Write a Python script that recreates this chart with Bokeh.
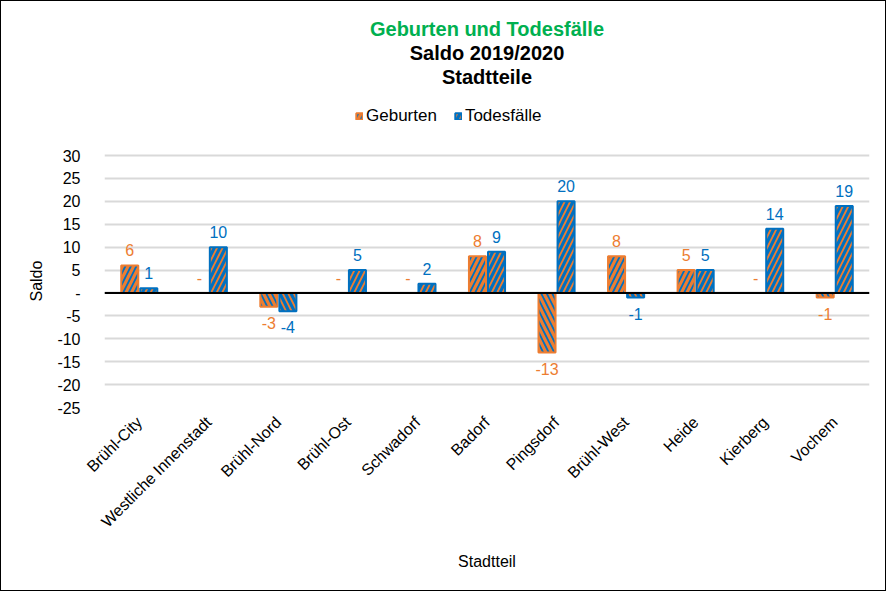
from bokeh.plotting import figure
from bokeh.models import (ColumnDataSource, FactorRange, Range1d, FixedTicker, Span,
                          Legend, LegendItem, Title)
from bokeh.transform import dodge
from bokeh.embed import file_html
from bokeh.resources import INLINE
from bokeh.core.properties import value

districts = ["Brühl-City", "Westliche Innenstadt", "Brühl-Nord", "Brühl-Ost", "Schwadorf",
             "Badorf", "Pingsdorf", "Brühl-West", "Heide", "Kierberg", "Vochem"]
geburten = [6, 0, -3, 0, 0, 8, -13, 8, 5, 0, -1]
todesfaelle = [1, 10, -4, 5, 2, 9, 20, -1, 5, 14, 19]
y_ticks = [-25, -20, -15, -10, -5, 0, 5, 10, 15, 20, 25, 30]
y_tick_labels = ["-25", "-20", "-15", "-10", "-5", "-", "5", "10", "15", "20", "25", "30"]

ORANGE = "#ED7D31"
BLUE = "#0070C0"
GREEN = "#00B050"
FONT = "Liberation Sans"

# value axis: -25..30 occupies the lower 252 px of a 320 px frame;
# the space above holds the legend (frame extended upwards, no ticks there)
Y_MIN, Y_MAX = -25, 30
FRAME_H, AXIS_H = 320, 252
y_end = Y_MIN + (Y_MAX - Y_MIN) * FRAME_H / AXIS_H


def make_source(vals):
    return ColumnDataSource(dict(
        district=districts,
        val=vals,
        hatch=["/" if v >= 0 else "\\" for v in vals],
        label=[str(v) if v != 0 else "-" for v in vals],
        baseline=["bottom" if v >= 0 else "top" for v in vals],
        yoff=[-9 if v >= 0 else 10 for v in vals],
    ))


src_g = make_source(geburten)
src_t = make_source(todesfaelle)

p = figure(x_range=FactorRange(*districts), y_range=Range1d(Y_MIN, y_end),
           width=886, height=591, output_backend="svg", toolbar_location=None,
           min_border_left=103, min_border_right=18, min_border_top=86,
           min_border_bottom=185)
p.styles = {"border": "1px solid black"}
p.outline_line_color = None
p.background_fill_color = "white"
p.border_fill_color = "white"

r_g = p.vbar(x=dodge("district", -0.137, range=p.x_range), top="val", bottom=0, width=0.245,
             source=src_g, fill_color=ORANGE, line_color=ORANGE, line_width=2,
             hatch_pattern="hatch", hatch_color=BLUE, hatch_scale=11, hatch_weight=1.8)
r_t = p.vbar(x=dodge("district", 0.137, range=p.x_range), top="val", bottom=0, width=0.245,
             source=src_t, fill_color=BLUE, line_color=BLUE, line_width=2,
             hatch_pattern="hatch", hatch_color=ORANGE, hatch_scale=11, hatch_weight=1.8)

p.text(x=dodge("district", -0.137, range=p.x_range), y="val", text="label", source=src_g,
       text_align="center", text_baseline={"field": "baseline"}, y_offset="yoff",
       text_color=ORANGE, text_font=value(FONT), text_font_size="16px")
p.text(x=dodge("district", 0.137, range=p.x_range), y="val", text="label", source=src_t,
       text_align="center", text_baseline={"field": "baseline"}, y_offset="yoff",
       text_color=BLUE, text_font=value(FONT), text_font_size="16px")

p.add_layout(Span(location=0, dimension="width", line_color="black", line_width=2))

# axes
p.xgrid.grid_line_color = None
p.ygrid.grid_line_color = "#D9D9D9"
p.ygrid.grid_line_width = 2
p.yaxis.ticker = FixedTicker(ticks=y_ticks)
p.yaxis.major_label_overrides = {t: l for t, l in zip(y_ticks, y_tick_labels)}
for ax in (p.xaxis, p.yaxis):
    ax.axis_line_color = None
    ax.major_tick_line_color = None
    ax.minor_tick_line_color = None
    ax.major_label_text_font = FONT
    ax.major_label_text_font_size = "16px"
    ax.major_label_text_color = "#000000"
    ax.axis_label_text_font = FONT
    ax.axis_label_text_font_size = "16px"
    ax.axis_label_text_font_style = "normal"
    ax.axis_label_text_color = "#000000"
p.yaxis.major_label_standoff = 18
p.xaxis.axis_label = "Stadtteil"
p.xaxis.major_label_orientation = 0.785398
p.xaxis.major_label_standoff = 6
p.xaxis.axis_label_standoff = 14
p.x_range.range_padding = 0
p.x_range.factor_padding = 0

# y axis title, placed at the middle of the -25..30 part of the frame
p.add_layout(Title(text="Saldo", align="left", text_font=FONT, text_font_size="16px",
                   text_font_style="normal", text_color="black", standoff=19,
                   offset=106), "left")

legend = Legend(items=[LegendItem(label="Geburten", renderers=[r_g]),
                       LegendItem(label="Todesfälle", renderers=[r_t])],
                orientation="horizontal", location=(251, 281),
                label_text_font=FONT, label_text_font_size="17px", label_text_color="black",
                glyph_width=8, glyph_height=8, spacing=17, padding=4, margin=0,
                label_standoff=3,
                border_line_color=None, background_fill_alpha=0)
p.add_layout(legend, "center")

for txt, col in [("Stadtteile", "black"), ("Saldo 2019/2020", "black"),
                 ("Geburten und Todesfälle", GREEN)]:
    p.add_layout(Title(text=txt, align="center", text_font=FONT, text_font_size="20px",
                       text_font_style="bold", text_color=col, standoff=0), "above")

open("out.html", "w").write(file_html(p, INLINE))
